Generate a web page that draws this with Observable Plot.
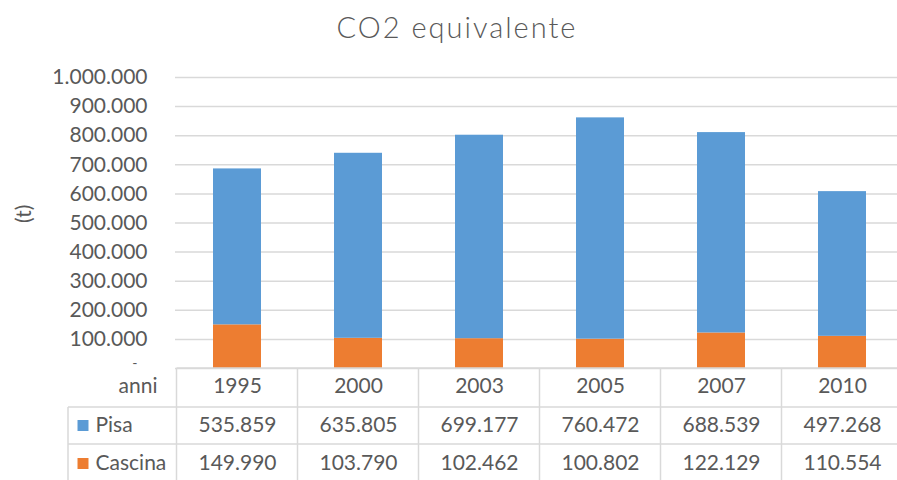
<!DOCTYPE html>
<html>
<head>
<meta charset="utf-8">
<script src="https://cdn.jsdelivr.net/npm/d3@7"></script>
<script src="https://cdn.jsdelivr.net/npm/@observablehq/plot@0.6"></script>
<style>
  html, body { margin: 0; padding: 0; background: #fff; overflow: hidden; }
  #title { height: 60px; box-sizing: border-box; padding-top: 12px; padding-left: 17px;
           font-family: Lato, sans-serif; font-weight: 300; font-size: 29px; letter-spacing: 2px;
           line-height: 1; text-align: center; color: #595959; }
</style>
</head>
<body>
<div id="title">CO2 equivalente</div>
<div id="chart"></div>
<script>
const years = ["1995", "2000", "2003", "2005", "2007", "2010"];
const seriesNames = ["Pisa", "Cascina"];
const pisa = [535859, 635805, 699177, 760472, 688539, 497268];
const cascina = [149990, 103790, 102462, 100802, 122129, 110554];
const yTicks = [100000, 200000, 300000, 400000, 500000, 600000, 700000, 800000, 900000, 1000000];
const gridTicks = [0, ...yTicks];
const colors = ["#5B9BD5", "#ED7D31"];

const itLocale = d3.formatLocale({decimal: ",", thousands: ".", grouping: [3], currency: ["€", ""]});
const fmt = itLocale.format(",d");

// stacked rows: Cascina at the bottom, Pisa on top
const rows = [
  ...years.map((y, i) => ({year: y, series: "Cascina", value: cascina[i]})),
  ...years.map((y, i) => ({year: y, series: "Pisa", value: pisa[i]}))
];

const gridColor = "#d9d9d9";

function tableGrid(index, scales, values, dimensions) {
  const x = scales.x;
  const bw = typeof x.bandwidth === "function" ? x.bandwidth() : 0;
  const centers = years.map(y => x(y) + bw / 2);
  const step = centers[1] - centers[0];
  const edges = centers.map(c => c - step / 2);
  edges.push(centers[centers.length - 1] + step / 2);
  const y0 = dimensions.height - dimensions.marginBottom;
  const H = dimensions.height;
  const right = dimensions.width;
  const g = d3.create("svg:g").attr("stroke", gridColor).attr("stroke-width", 1.5).attr("fill", "none");
  g.append("line").attr("x1", edges[0]).attr("x2", right).attr("y1", y0).attr("y2", y0);
  g.append("line").attr("x1", 68).attr("x2", right).attr("y1", y0 + 39).attr("y2", y0 + 39);
  g.append("line").attr("x1", 68).attr("x2", right).attr("y1", y0 + 76).attr("y2", y0 + 76);
  g.append("line").attr("x1", 68).attr("x2", 68).attr("y1", y0 + 39).attr("y2", H);
  edges.forEach(e => g.append("line").attr("x1", e).attr("x2", e).attr("y1", y0).attr("y2", H));
  return g.node();
}

const rowHeader = 24, rowPisa = 63, rowCascina = 101;

const chart = Plot.plot({
  width: 897,
  height: 420,
  marginTop: 17,
  marginBottom: 112,
  marginLeft: 175,
  marginRight: 0,
  style: {fontFamily: "Lato, sans-serif", fontSize: "21px", color: "#595959", background: "#fff"},
  x: {domain: years, range: [176, 904], paddingInner: 0.6, paddingOuter: 0.3, axis: null},
  y: {domain: [0, 1000000], axis: null},
  color: {domain: seriesNames, range: colors},
  marks: [
    Plot.gridY(gridTicks, {stroke: gridColor, strokeOpacity: 1, strokeWidth: 1.5}),
    Plot.barY(rows, {x: "year", y: "value", fill: "series", order: null}),
    Plot.axisY(yTicks, {tickSize: 0, tickPadding: 28, tickFormat: d => fmt(d), label: null}),
    Plot.text([0], {y: d => d, text: () => "-", frameAnchor: "left", dx: -38, dy: -5, textAnchor: "end", fontSize: 14}),
    Plot.text(["(t)"], {frameAnchor: "left", dx: -151, rotate: -90, text: d => d}),
    tableGrid,
    // table header row
    Plot.text(["anni"], {frameAnchor: "bottom-left", dx: -18, dy: rowHeader, textAnchor: "end", text: d => d}),
    Plot.text(years, {x: d => d, text: d => d, frameAnchor: "bottom", dy: rowHeader}),
    // Pisa row
    Plot.dot(["Pisa"], {frameAnchor: "bottom-left", dx: -92.5, dy: 57, symbol: "square", r: 6.2, fill: d => d, stroke: null}),
    Plot.text(["Pisa"], {frameAnchor: "bottom-left", dx: -80, dy: rowPisa, textAnchor: "start", text: d => d}),
    Plot.text(pisa, {x: (d, i) => years[i], text: d => fmt(d), frameAnchor: "bottom", dy: rowPisa}),
    // Cascina row
    Plot.dot(["Cascina"], {frameAnchor: "bottom-left", dx: -92.5, dy: 95, symbol: "square", r: 6.2, fill: d => d, stroke: null}),
    Plot.text(["Cascina"], {frameAnchor: "bottom-left", dx: -80, dy: rowCascina, textAnchor: "start", text: d => d}),
    Plot.text(cascina, {x: (d, i) => years[i], text: d => fmt(d), frameAnchor: "bottom", dy: rowCascina})
  ]
});
document.getElementById("chart").appendChild(chart);
</script>
</body>
</html>
